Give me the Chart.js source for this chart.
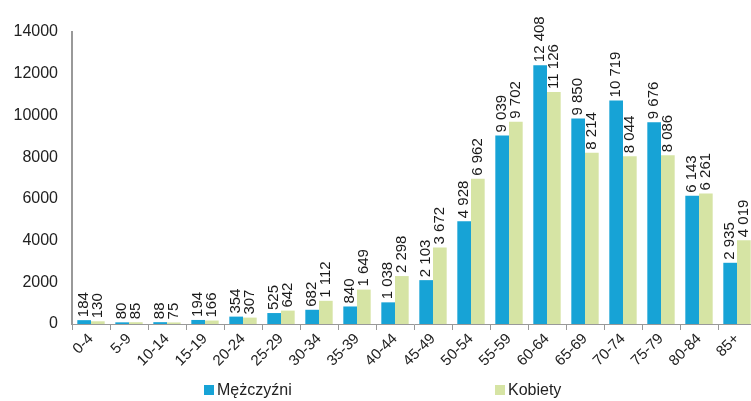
<!DOCTYPE html>
<html>
<head>
<meta charset="utf-8">
<script src="https://cdn.jsdelivr.net/npm/chart.js@4.4.1/dist/chart.umd.min.js"></script>
<style>
    html, body { margin: 0; padding: 0; background: #fff; }
    #wrap { position: relative; width: 751px; height: 401px; overflow: hidden; }
    .legend { position: absolute; top: 381px; font: 16px "Liberation Sans", Arial, sans-serif; color: #222; }
    .legend span { display: inline-block; width: 10px; height: 10px; margin-right: 3px; vertical-align: 0px; }
</style>
</head>
<body>
<div id="wrap">
    <!-- plot runs a few px past the right edge, the wrapper clips it -->
    <canvas id="chart" width="756" height="401"></canvas>
    <div class="legend" style="left: 204px;"><span style="background:#17a3d6"></span>Mężczyźni</div>
    <div class="legend" style="left: 495px;"><span style="background:#d6e4a4"></span>Kobiety</div>
</div>
<script>
const ageGroups = ['0-4', '5-9', '10-14', '15-19', '20-24', '25-29', '30-34', '35-39', '40-44',
    '45-49', '50-54', '55-59', '60-64', '65-69', '70-74', '75-79', '80-84', '85+']
const men = [184, 80, 88, 194, 354, 525, 682, 840, 1038, 2103, 4928, 9039, 12408, 9850, 10719, 9676, 6143, 2935]
const women = [130, 85, 75, 166, 307, 642, 1112, 1649, 2298, 3672, 6962, 9702, 11126, 8214, 8044, 8086, 6261, 4019]

const FONT = '"Liberation Sans", Arial, sans-serif'

// thousands separated with a space: 12408 -> "12 408"
function fmt(v) {
    return String(v).replace(/\B(?=(\d{3})+(?!\d))/g, ' ')
}

// vertical value labels above each bar
const barLabels = {
    id: 'barLabels',
    afterDatasetsDraw(chart) {
        const ctx = chart.ctx
        ctx.save()
        ctx.font = '15px ' + FONT
        ctx.fillStyle = '#1a1a1a'
        ctx.textAlign = 'left'
        ctx.textBaseline = 'middle'
        chart.data.datasets.forEach((ds, i) => {
            chart.getDatasetMeta(i).data.forEach((bar, j) => {
                ctx.save()
                ctx.translate(bar.x, bar.y - 3)
                ctx.rotate(-Math.PI / 2)
                ctx.fillText(fmt(ds.data[j]), 0, 0)
                ctx.restore()
            })
        })
        ctx.restore()
    }
}

new Chart(document.getElementById('chart'), {
    type: 'bar',
    data: {
        labels: ageGroups,
        datasets: [
            {label: 'Mężczyźni', data: men, backgroundColor: '#17a3d6'},
            {label: 'Kobiety', data: women, backgroundColor: '#d6e4a4'}
        ]
    },
    options: {
        responsive: false,
        animation: false,
        layout: {padding: {top: 32, right: 0, bottom: 0, left: 0}},
        categoryPercentage: 0.72,
        barPercentage: 1,
        plugins: {
            legend: {display: false},
            tooltip: {enabled: false}
        },
        scales: {
            x: {
                grid: {offset: true, drawOnChartArea: false, tickLength: 6, color: '#999'},
                border: {color: '#999'},
                ticks: {
                    minRotation: 45, maxRotation: 45,
                    color: '#222', font: {family: FONT, size: 15}, padding: 0
                },
                afterFit: (scale) => { scale.height = 77 }
            },
            y: {
                min: 0, max: 14000,
                grid: {display: false},
                border: {color: '#999', width: 2},
                ticks: {
                    stepSize: 2000, color: '#222',
                    font: {family: FONT, size: 16}, padding: 6,
                    callback: (v) => String(v)
                },
                afterFit: (scale) => { scale.width = 72 }
            }
        }
    },
    plugins: [barLabels]
})
</script>
</body>
</html>
